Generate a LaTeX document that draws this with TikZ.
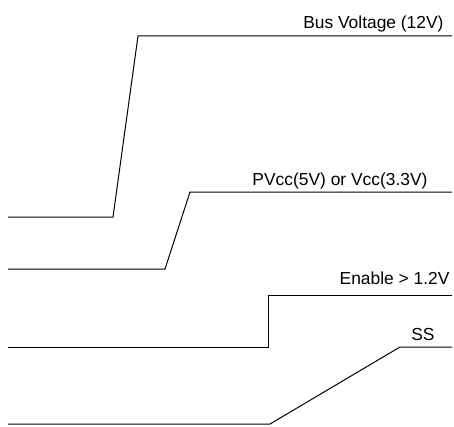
\documentclass[tikz,border=0pt]{standalone}
\usepackage{fontspec}
\setmainfont{Liberation Sans}
\begin{document}
\begin{tikzpicture}[x=0.5pt,y=-0.5pt,line width=0.5pt,
		lbl/.style={anchor=base east,inner sep=0pt,font=\fontsize{8.7}{10}\selectfont}]
		\useasboundingbox (0,0) rectangle (454,427);
		% bus voltage
		\draw (8,217) -- (113,217) -- (138,36) -- (452,36);
		\node[lbl] (bus) at (444,29) {Bus Voltage (12V)};
		% pvcc / vcc
		\draw (8,269) -- (165,269) -- (190,192) -- (452,192);
		\node[lbl] (vcc) at (428,185) {PVcc(5V) or Vcc(3.3V)};
		% enable
		\draw (8,347) -- (268,347) -- (268,295) -- (452,295);
		\node[lbl] (en) at (450,284) {Enable > 1.2V};
		% soft start
		\draw (8,424) -- (270,424) -- (400,347) -- (452,347);
		\node[lbl] (ss) at (435,340) {SS};
		\end{tikzpicture}
\end{document}
